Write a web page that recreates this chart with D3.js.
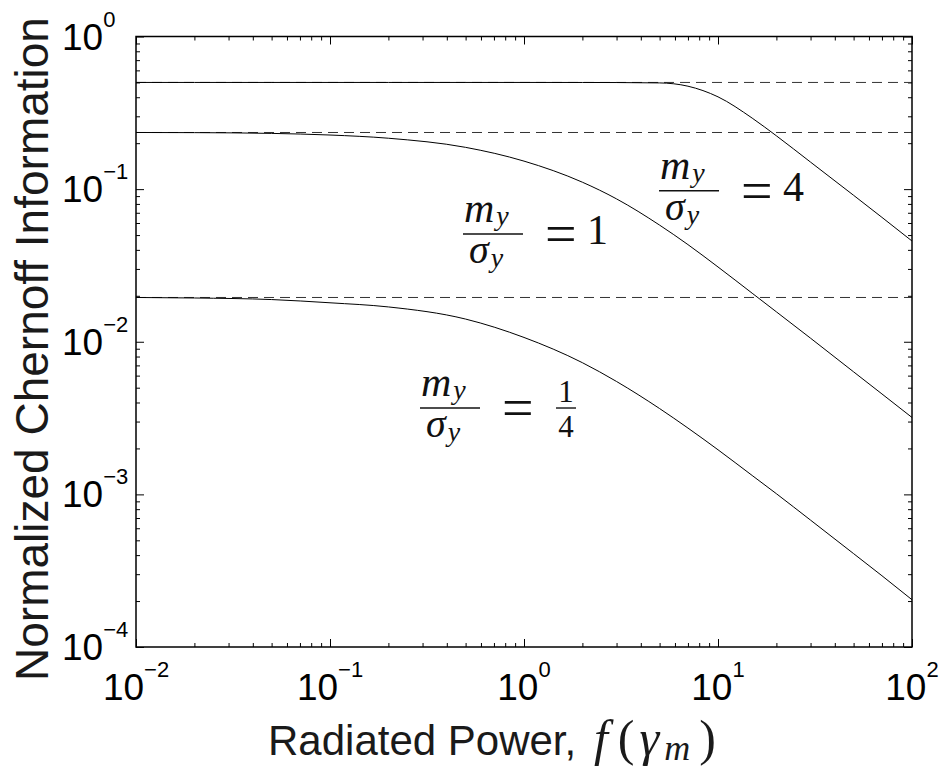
<!DOCTYPE html>
<html>
<head>
<meta charset="utf-8">
<style>
    body { margin: 0; background: #fff; }
    svg { display: block; }
    .sans { font-family: "Liberation Sans", Arial, Helvetica, sans-serif; }
    .serif { font-family: "Liberation Serif", "Times New Roman", serif; }
</style>
</head>
<body>
<svg width="940" height="772"></svg>
<script src="https://d3js.org/d3.v7.min.js"></script>
<script>
    // radiated power f(gamma_m), sampled along the x axis
    var fPower = [0.01, 0.02, 0.05, 0.1, 0.2, 0.5, 1, 2, 3, 5, 7, 10, 15, 20, 30, 50, 70, 100];
    // normalized Chernoff information, one list per m_y/sigma_y
    var chernoffQuarter = [0.0195, 0.01935, 0.0189, 0.0180, 0.01691, 0.01408, 0.01067, 0.00729, 0.00549, 0.00365, 0.00272, 0.00196, 0.00133, 0.00101, 0.000678, 0.000409, 0.000293, 0.000204];
    var chernoffOne = [0.235, 0.2345, 0.2318, 0.2262, 0.2155, 0.1878, 0.1526, 0.1110, 0.0863, 0.0581, 0.0433, 0.0309, 0.0208, 0.0157, 0.01055, 0.00635, 0.00455, 0.00319];
    var chernoffFour = [0.5, 0.5, 0.5, 0.5, 0.5, 0.5, 0.5, 0.4998, 0.4993, 0.4965, 0.4725, 0.4024, 0.292, 0.2235, 0.1503, 0.0911, 0.0653, 0.0457];
    // low-power limits (dashed)
    var asymptotes = [0.0195, 0.235, 0.5];
    var xExps = [-2, -1, 0, 1, 2];
    var yExps = [-4, -3, -2, -1, 0];
    // curve labels, anchored at the fraction bar centre (data units)
    var ratioLabels = [
        { x: 0.4155, y: 0.00368, rhs: '1/4' },
        { x: 0.692, y: 0.0508, rhs: '1' },
        { x: 7.09, y: 0.0976, rhs: '4' }
    ];

    var svg = d3.select('svg'),
        margin = { top: 36.5, right: 28, bottom: 125, left: 136 },
        width = +svg.attr('width') - margin.left - margin.right,
        height = +svg.attr('height') - margin.top - margin.bottom;

    var x = d3.scaleLog().domain([1e-2, 1e2]).range([0, width]);
    var y = d3.scaleLog().domain([1e-4, 1]).range([height, 0]);

    var g = svg.append('g')
        .attr('transform', 'translate(' + margin.left + ',' + margin.top + ')');

    var majorX = xExps.map(function (e) { return Math.pow(10, e); });
    var majorY = yExps.map(function (e) { return Math.pow(10, e); });
    var minorX = [], minorY = [];
    xExps.slice(0, -1).forEach(function (e) {
        for (var k = 2; k <= 9; k++) minorX.push(k * Math.pow(10, e));
    });
    yExps.slice(0, -1).forEach(function (e) {
        for (var k = 2; k <= 9; k++) minorY.push(k * Math.pow(10, e));
    });

    // ticks point inward on all four sides
    function tickAxis(axis, vals, size, transform) {
        var a = g.append('g')
            .attr('transform', transform || null)
            .call(axis.tickValues(vals).tickSize(-size).tickFormat(''));
        a.select('.domain').remove();
        a.selectAll('line').attr('stroke', '#000').attr('stroke-width', 1);
    }
    tickAxis(d3.axisBottom(x), majorX, 8, 'translate(0,' + height + ')');
    tickAxis(d3.axisBottom(x), minorX, 4, 'translate(0,' + height + ')');
    tickAxis(d3.axisTop(x), majorX, 8);
    tickAxis(d3.axisTop(x), minorX, 4);
    tickAxis(d3.axisLeft(y), majorY, 8);
    tickAxis(d3.axisLeft(y), minorY, 4);
    tickAxis(d3.axisRight(y), majorY, 8, 'translate(' + width + ',0)');
    tickAxis(d3.axisRight(y), minorY, 4, 'translate(' + width + ',0)');

    // dashed limits
    g.selectAll('.limit')
        .data(asymptotes)
        .enter().append('line')
        .attr('class', 'limit')
        .attr('x1', x(1e-2)).attr('x2', x(1e2))
        .attr('y1', function (d) { return y(d); })
        .attr('y2', function (d) { return y(d); })
        .attr('stroke', '#333')
        .attr('stroke-width', 1)
        .attr('stroke-dasharray', '10,6');

    var line = d3.line()
        .x(function (d) { return x(d[0]); })
        .y(function (d) { return y(d[1]); })
        .curve(d3.curveMonotoneX);

    [chernoffQuarter, chernoffOne, chernoffFour].forEach(function (vals) {
        g.append('path')
            .datum(d3.zip(fPower, vals))
            .attr('fill', 'none')
            .attr('stroke', '#000')
            .attr('stroke-width', 1)
            .attr('d', line);
    });

    // frame
    g.append('rect')
        .attr('width', width).attr('height', height)
        .attr('fill', 'none').attr('stroke', '#000').attr('stroke-width', 1.5);

    // tick labels
    g.selectAll('.xlab')
        .data(xExps)
        .enter().append('text')
        .attr('class', 'xlab sans')
        .attr('x', function (d) { return x(Math.pow(10, d)); })
        .attr('y', height + 53)
        .attr('text-anchor', 'middle')
        .attr('font-size', 37)
        .each(function (d) {
            var t = d3.select(this);
            t.append('tspan').text('10');
            t.append('tspan').attr('font-size', 22).attr('dy', -23)
                .text(d < 0 ? '\u2212' + (-d) : d);
        });

    g.selectAll('.ylab')
        .data(yExps)
        .enter().append('text')
        .attr('class', 'ylab sans')
        .attr('x', 62 - margin.left)
        .attr('y', function (d) { return y(Math.pow(10, d)) + 13; })
        .attr('font-size', 37)
        .each(function (d) {
            var t = d3.select(this);
            t.append('tspan').text('10');
            t.append('tspan').attr('font-size', 22).attr('dy', -23)
                .text(d < 0 ? '\u2212' + (-d) : d);
        });

    // axis titles
    var xt = g.append('text')
        .attr('class', 'sans')
        .attr('x', 268 - margin.left)
        .attr('y', height + 108)
        .attr('font-size', 42)
        .attr('fill', '#1a1a1a');
    xt.append('tspan').text('Radiated Power, ');
    xt.append('tspan').attr('class', 'serif').attr('font-style', 'italic')
        .attr('font-size', 50).attr('dx', 6).text('f');
    xt.append('tspan').attr('class', 'serif').attr('font-size', 50).attr('dx', 10).text('(');
    xt.append('tspan').attr('class', 'serif').attr('font-style', 'italic')
        .attr('font-size', 50).attr('dx', 5).text('\u03b3');
    xt.append('tspan').attr('class', 'serif').attr('font-style', 'italic')
        .attr('font-size', 36).attr('dx', 5).attr('dy', 5).text('m');
    xt.append('tspan').attr('class', 'serif').attr('font-size', 50)
        .attr('dx', 9).attr('dy', -5).text(')');

    g.append('text')
        .attr('class', 'sans')
        .attr('transform', 'translate(' + (48 - margin.left) + ',' + (349 - margin.top) + ') rotate(-90)')
        .attr('text-anchor', 'middle')
        .attr('font-size', 46)
        .attr('fill', '#1a1a1a')
        .text('Normalized Chernoff Information');

    // m_y / sigma_y = ... labels
    ratioLabels.forEach(function (d) {
        var lab = g.append('g')
            .attr('class', 'serif')
            .attr('fill', '#111')
            .attr('transform', 'translate(' + x(d.x) + ',' + y(d.y) + ')');
        var num = lab.append('text').attr('x', -29).attr('y', -12)
            .attr('font-size', 42).attr('font-style', 'italic');
        num.append('tspan').text('m');
        num.append('tspan').attr('font-size', 28).attr('dx', 2).attr('dy', 3).text('y');
        lab.append('line').attr('x1', -30).attr('x2', 30)
            .attr('stroke', '#111').attr('stroke-width', 1.6);
        var den = lab.append('text').attr('x', -24).attr('y', 29)
            .attr('font-size', 40).attr('font-style', 'italic');
        den.append('tspan').text('\u03c3');
        den.append('tspan').attr('font-size', 28).attr('dx', 2).attr('dy', 4).text('y');
        lab.append('text').attr('x', 52).attr('y', 19)
            .attr('font-size', 56)
            .text('=');
        var parts = d.rhs.split('/');
        if (parts.length === 2) {
            lab.append('line').attr('x1', 106).attr('x2', 126)
                .attr('stroke', '#111').attr('stroke-width', 1.4);
            lab.append('text').attr('x', 116).attr('y', -6).attr('text-anchor', 'middle')
                .attr('font-size', 31).text(parts[0]);
            lab.append('text').attr('x', 116).attr('y', 29).attr('text-anchor', 'middle')
                .attr('font-size', 31).text(parts[1]);
        } else {
            lab.append('text').attr('x', 94).attr('y', 10)
                .attr('font-size', 42).text(d.rhs);
        }
    });
</script>
</body>
</html>
